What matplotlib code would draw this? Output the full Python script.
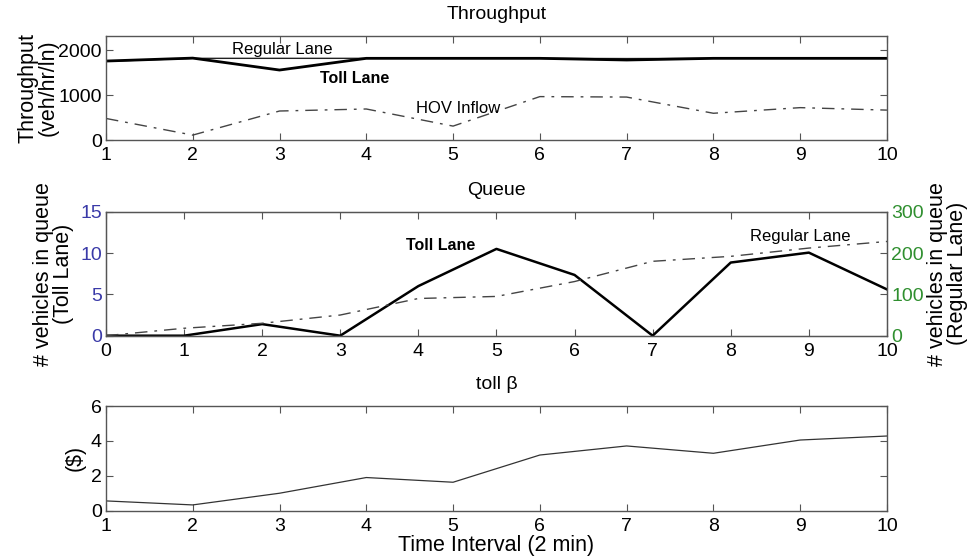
import numpy as np
import matplotlib
matplotlib.use("Agg")
import matplotlib.pyplot as plt

plt.rcParams['font.family'] = ['Liberation Sans', 'DejaVu Sans']

# throughput panel
t_thru = [1, 2, 3, 4, 5, 6, 7, 8, 9, 10]
regular_thru = [1750, 1815, 1815, 1815, 1815, 1815, 1810, 1815, 1815, 1815]
toll_thru = [1755, 1820, 1555, 1815, 1815, 1815, 1778, 1815, 1815, 1815]
hov_inflow = [480, 110, 645, 690, 310, 965, 955, 595, 720, 665]

# queue panel
t_queue = [0, 1, 2, 3, 4, 5, 6, 7, 8, 9, 10]
toll_queue = [0, 0, 1.4, 0, 6.0, 10.5, 7.35, 0, 8.85, 10.05, 5.6]
regular_queue = [0, 18, 30, 50, 90, 95, 131, 180, 192, 212, 228]

# toll panel
t_toll = [1, 2, 3, 4, 5, 6, 7, 8, 9, 10]
toll_beta = [0.56, 0.33, 1.0, 1.9, 1.63, 3.19, 3.71, 3.29, 4.05, 4.28]

fig = plt.figure(figsize=(9.72, 5.58), dpi=100)
L, W = 0.109, 0.8035
ax1 = fig.add_axes([L, 0.749, W, 0.1864])
ax2 = fig.add_axes([L, 0.3984, W, 0.2222])
ax3 = fig.add_axes([L, 0.0848, W, 0.1876])

dashdot = (0, (9, 5, 2, 5))
tick_fs = 14
title_fs = 14
lab_fs = 15.5
note_fs = 12
edge = '#555555'

def style(ax):
    ax.tick_params(direction='in', top=True, right=True, labelsize=tick_fs,
                   length=5, color=edge)
    ax.tick_params(axis='x', pad=5)
    ax.tick_params(axis='y', pad=3)
    for s in ax.spines.values():
        s.set_color(edge)
        s.set_linewidth(1.0)

# throughput
ax1.plot(t_thru, regular_thru, color='#222222', lw=1.0)
ax1.plot(t_thru, toll_thru, color='black', lw=2.0)
ax1.plot(t_thru, hov_inflow, color='#444444', lw=1.0, linestyle=dashdot)
ax1.set_xlim(1, 10)
ax1.set_ylim(0, 2310)
ax1.set_xticks(range(1, 11))
ax1.set_yticks([0, 1000, 2000])
ax1.set_title('Throughput', fontsize=title_fs, pad=12)
ax1.set_ylabel('Throughput\n(veh/hr/ln)', fontsize=lab_fs, linespacing=0.95, labelpad=0)
ax1.text(3.03, 2022, 'Regular Lane', fontsize=note_fs, ha='center', va='center')
ax1.text(3.86, 1378, 'Toll Lane', fontsize=11.5, ha='center', va='center', fontweight='bold')
ax1.text(5.06, 711, 'HOV Inflow', fontsize=note_fs, ha='center', va='center')
style(ax1)

# queue
ax2.plot(t_queue, toll_queue, color='black', lw=1.8)
ax2.set_xlim(0, 10)
ax2.set_ylim(0, 15)
ax2.set_xticks(range(0, 11))
ax2.set_yticks([0, 5, 10, 15])
ax2.set_title('Queue', fontsize=title_fs, pad=12)
ax2.set_ylabel('# vehicles in queue\n(Toll Lane)', fontsize=lab_fs, linespacing=0.95, labelpad=4)
ax2.text(4.28, 10.9, 'Toll Lane', fontsize=11.5, ha='center', va='center', fontweight='bold')
style(ax2)
ax2.tick_params(right=False)
ax2.tick_params(axis='y', labelcolor='#3a3aa8')
ax2r = ax2.twinx()
ax2r.plot(t_queue, regular_queue, color='#444444', lw=1.0, linestyle=dashdot)
ax2r.set_ylim(0, 300)
ax2r.set_yticks([0, 100, 200, 300])
ax2r.set_ylabel('# vehicles in queue\n(Regular Lane)', fontsize=lab_fs, linespacing=0.95, labelpad=2)
ax2r.text(8.89, 240, 'Regular Lane', fontsize=note_fs, ha='center', va='center')
ax2r.tick_params(direction='in', labelsize=tick_fs, length=5, color=edge,
                 labelcolor='#2f8f2f', pad=3)
for s in ax2r.spines.values():
    s.set_color(edge)

# toll
ax3.plot(t_toll, toll_beta, color='#333333', lw=0.9)
ax3.set_xlim(1, 10)
ax3.set_ylim(0, 6)
ax3.set_xticks(range(1, 11))
ax3.set_yticks([0, 2, 4, 6])
ax3.set_title('toll β', fontsize=title_fs, pad=12)
ax3.set_ylabel('($)', fontsize=lab_fs, labelpad=4)
ax3.set_xlabel('Time Interval (2 min)', fontsize=lab_fs, labelpad=0)
style(ax3)

fig.savefig('out.png', dpi=100)
